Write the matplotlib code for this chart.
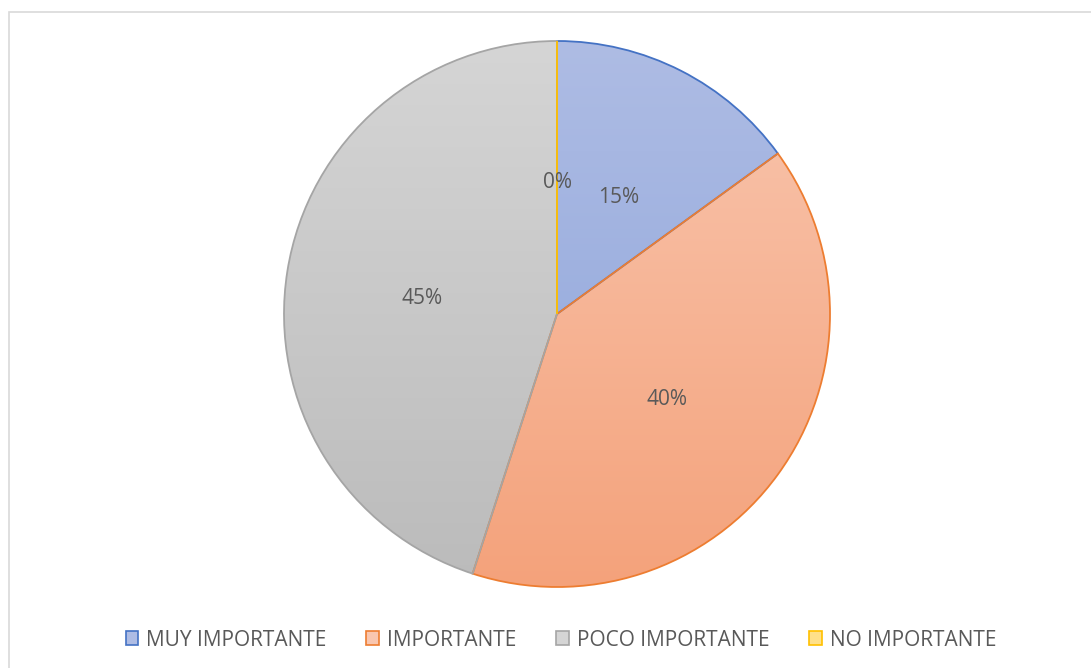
import numpy as np
import matplotlib.pyplot as plt
from matplotlib.patches import Patch, Rectangle
from matplotlib.colors import LinearSegmentedColormap

plt.rcParams['font.family'] = ['Open Sans', 'DejaVu Sans']

labels = ['MUY IMPORTANTE', 'IMPORTANTE', 'POCO IMPORTANTE', 'NO IMPORTANTE']
values = [15, 40, 45, 0]
edge_colors = ['#4472c4', '#ed7d31', '#a5a5a5', '#ffc000']
top_colors = ['#aebce4', '#f9c6af', '#d5d5d5', '#ffe08a']
bottom_colors = ['#8ba3da', '#f4a27b', '#bbbbbb', '#ffd24d']
text_color = '#595959'

W, H = 1091, 668
fig = plt.figure(figsize=(W / 100, H / 100), dpi=100)

# chart border (runs off the right/bottom edge like the screenshot)
fig.patches.append(Rectangle((9 / W, -0.05), 1.1, 1 - 12 / H + 0.05,
                             transform=fig.transFigure, fill=False,
                             edgecolor='#d9d9d9', linewidth=1.2))

cx, cy, r = 557, 314, 273
ax = fig.add_axes([(cx - r) / W, (H - cy - r) / H, 2 * r / W, 2 * r / H])

wedges, texts, autotexts = ax.pie(values, startangle=90, counterclock=False,
                                  autopct='%1.0f%%', pctdistance=0.5,
                                  wedgeprops=dict(linewidth=1.3),
                                  textprops=dict(color=text_color, fontsize=15))
ax.set_aspect('equal')
ax.axis('off')

# vertical gradient fill inside each wedge
for w, ec, c_top, c_bot in zip(wedges, edge_colors, top_colors, bottom_colors):
    w.set_facecolor('none')
    w.set_edgecolor(ec)
    w.set_zorder(3)
    cmap = LinearSegmentedColormap.from_list('g', [c_bot, c_top])
    grad = np.linspace(0, 1, 256).reshape(-1, 1)
    im = ax.imshow(grad, cmap=cmap, extent=(-1, 1, -1, 1), origin='lower',
                   aspect='auto', zorder=1)
    im.set_clip_path(w)

for t in autotexts:
    t.set_zorder(4)
    x, y = t.get_position()
    t.set_position((x, y - 0.02))

ax.set_xlim(-1, 1)
ax.set_ylim(-1, 1)

handles = [Patch(facecolor=ct, edgecolor=ec, linewidth=1.2)
           for ct, ec in zip(top_colors, edge_colors)]
fig.legend(handles, labels, loc='center', bbox_to_anchor=(561 / W, 1 - 640 / H),
           ncol=4, frameon=False, fontsize=15, labelcolor=text_color,
           handlelength=0.62, handleheight=0.62, handletextpad=0.38,
           columnspacing=1.9)

fig.savefig('out.png', dpi=100)
